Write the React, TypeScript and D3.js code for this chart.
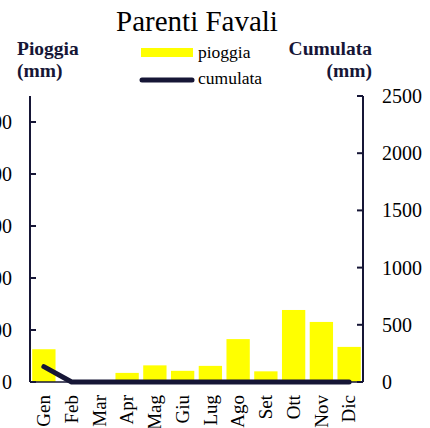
import React from "react";
import * as d3 from "d3";

const months = ["Gen", "Feb", "Mar", "Apr", "Mag", "Giu", "Lug", "Ago", "Set", "Ott", "Nov", "Dic"];
const pioggia = [126, 0, 0, 35, 64, 43, 62, 165, 41, 277, 231, 135];
const cumulata = [134, 0, 0, 0, 0, 0, 0, 0, 0, 0, 0, 0];
const leftTicks = [0, 200, 400, 600, 800, 1000];
const rightTicks = [0, 500, 1000, 1500, 2000, 2500];

const navy = "#161636";
const yellow = "#ffff00";
const font = "'Palatino Linotype', 'Book Antiqua', Palatino, 'Liberation Serif', serif";

const W = 430, H = 428;
const margin = { left: 30, right: 67, top: 96, bottom: 46 };

export default function App() {
  const x = d3.scaleBand<string>()
    .domain(months)
    .range([margin.left, W - margin.right])
    .paddingInner(0.16)
    .paddingOuter(0.08);
  const yL = d3.scaleLinear().domain([0, 1100]).range([H - margin.bottom, margin.top]);
  const yR = d3.scaleLinear().domain([0, 2500]).range([H - margin.bottom, margin.top]);

  const line = d3.line<number>()
    .x((_, i) => (x(months[i]) as number) + x.bandwidth() / 2)
    .y(d => yR(d));

  const x0 = margin.left, x1 = W - margin.right, yb = H - margin.bottom;

  return (
    <svg width={W} height={H} style={{ position: "absolute", left: 0, top: 0 }} fontFamily={font}>
      <text x={197} y={31} textAnchor="middle" fontSize={29} fill="#000">Parenti Favali</text>
      <text x={17} y={55} fontSize={19.5} fontWeight="bold" fill={navy}>Pioggia</text>
      <text x={17} y={77} fontSize={19.5} fontWeight="bold" fill={navy}>(mm)</text>
      <text x={372} y={55} fontSize={19.5} fontWeight="bold" fill={navy} textAnchor="end">Cumulata</text>
      <text x={372} y={77} fontSize={19.5} fontWeight="bold" fill={navy} textAnchor="end">(mm)</text>

      <rect x={141} y={48} width={52} height={9} fill={yellow} />
      <text x={198} y={58} fontSize={17.5} fill="#000">pioggia</text>
      <line x1={142} x2={192} y1={80} y2={80} stroke={navy} strokeWidth={5} strokeLinecap="round" />
      <text x={198} y={84} fontSize={17.5} fill="#000">cumulata</text>

      {pioggia.map((v, i) => (
        <rect key={months[i]} x={x(months[i])} y={yL(v)} width={x.bandwidth()} height={yb - yL(v)} fill={yellow} />
      ))}

      <line x1={x0} x2={x1} y1={yb} y2={yb} stroke={navy} strokeWidth={1.5} />
      <line x1={x0} x2={x0} y1={margin.top} y2={yb} stroke={navy} strokeWidth={2} />
      <line x1={x1} x2={x1} y1={margin.top} y2={yb} stroke={navy} strokeWidth={2} />

      {leftTicks.map(t => (
        <g key={"l" + t}>
          <line x1={x0} x2={x0 + 6} y1={yL(t)} y2={yL(t)} stroke={navy} strokeWidth={2} />
          <text x={12} y={yL(t)} dy="0.35em" textAnchor="end" fontSize={20} fill="#000">{t}</text>
        </g>
      ))}
      {rightTicks.map(t => (
        <g key={"r" + t}>
          <line x1={x1 - 6} x2={x1} y1={yR(t)} y2={yR(t)} stroke={navy} strokeWidth={2} />
          <text x={382} y={yR(t)} dy="0.35em" fontSize={20} fill="#000">{t}</text>
        </g>
      ))}

      <path d={line(cumulata) || ""} fill="none" stroke={navy} strokeWidth={5} strokeLinecap="round" strokeLinejoin="round" />

      {months.map(m => {
        const cx = (x(m) as number) + x.bandwidth() / 2;
        return (
          <text key={m} transform={`translate(${cx},395) rotate(-90)`} dy="0.33em" textAnchor="end" fontSize={19} fill="#000">{m}</text>
        );
      })}
    </svg>
  );
}
